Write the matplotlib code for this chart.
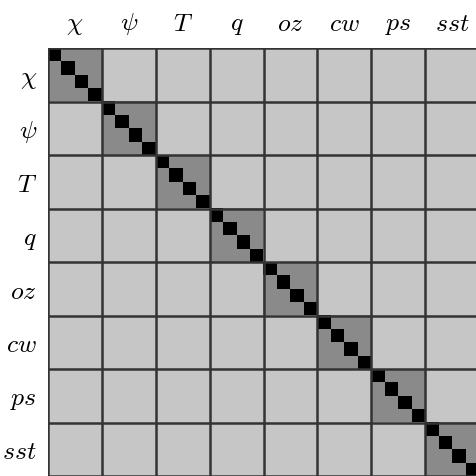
import matplotlib
matplotlib.use("Agg")
import matplotlib.pyplot as plt
from matplotlib.colors import ListedColormap
import numpy as np

plt.rcParams['mathtext.fontset'] = 'cm'

labels = [r'$\chi$', r'$\psi$', r'$T$', r'$q$', r'$oz$', r'$cw$', r'$ps$', r'$sst$']
n_sub = 4            # levels per variable
off_block = 0        # cross-variable covariance
in_block = 1         # within-variable covariance
diag = 2             # variances

n_var = len(labels)
n = n_var * n_sub
mat = np.kron(np.eye(n_var), np.full((n_sub, n_sub), in_block)) + off_block
mat[np.arange(n), np.arange(n)] = diag

cmap = ListedColormap(['#c6c6c6', '#8a8a8a', '#000000'])

fig = plt.figure(figsize=(4.77, 4.76), dpi=100)
ax = fig.add_axes([48 / 477, 0, 431 / 477, 428 / 476])
ax.imshow(mat, cmap=cmap, vmin=-0.5, vmax=2.5, interpolation='nearest', aspect='auto')

for k in range(n_var + 1):
    pos = k * n_sub - 0.5
    ax.axhline(pos, color='#333333', lw=1.8)
    ax.axvline(pos, color='#333333', lw=1.8)

centers = np.arange(n_var) * n_sub + (n_sub - 1) / 2
ax.set_xticks(centers)
ax.set_yticks(centers)
ax.set_xticklabels(labels, fontsize=18.5)
ax.set_yticklabels(labels, fontsize=18.5)
ax.xaxis.tick_top()
ax.tick_params(length=0, pad=8)
ax.set_xlim(-0.5, n - 0.5)
ax.set_ylim(n - 0.5, -0.5)
for s in ax.spines.values():
    s.set_visible(False)

fig.savefig('out.png', dpi=100)
